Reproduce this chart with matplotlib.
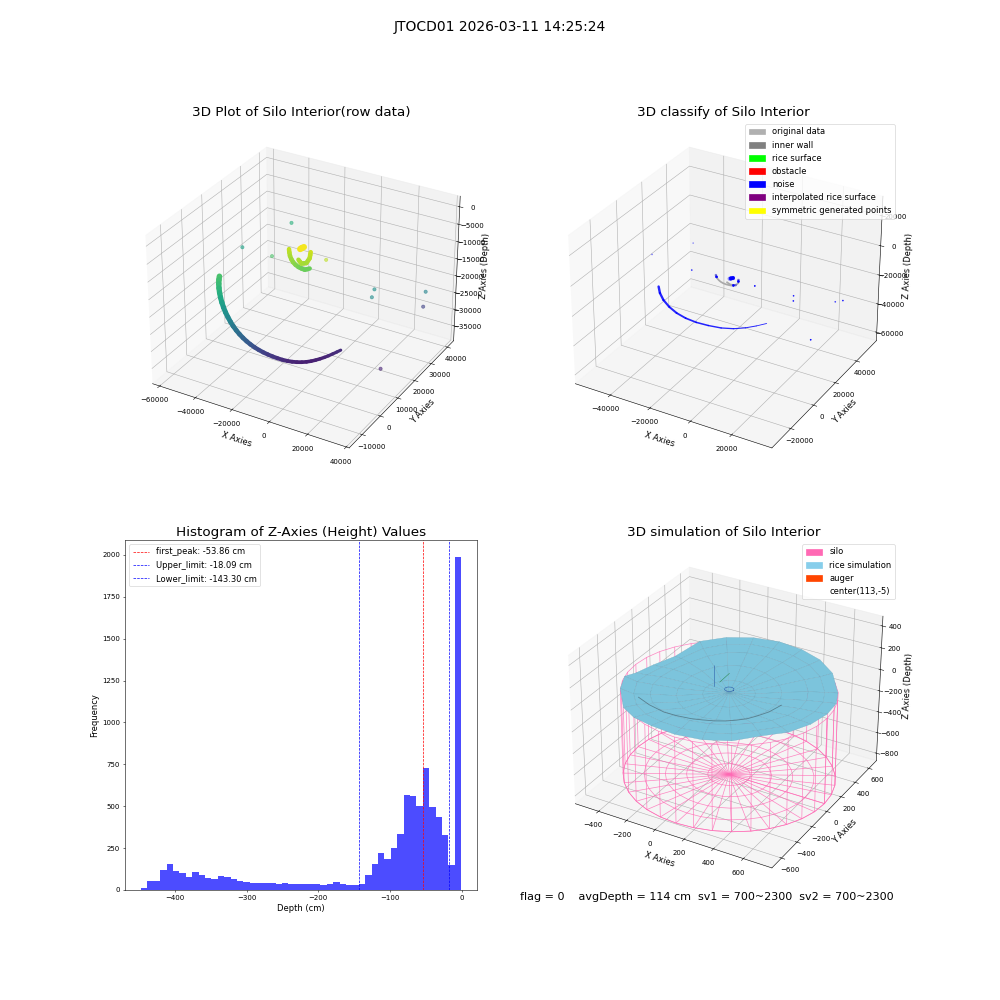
#!/usr/bin/env python3
import matplotlib
matplotlib.use("Agg")
import matplotlib.patches as mpatches
import matplotlib.pyplot as plt
import numpy as np
from mpl_toolkits.mplot3d.art3d import Line3DCollection

# Outer wall arc (mm)
ARC_X = [-39300, -38620, -37890, -37110, -36280, -35400, -34470, -33495, -32470, -31400, -30280, -29110, -27840,
         -26525, -25160, -23745, -22285, -20775, -19215, -17605, -15950, -14245, -12490, -10735, -8980, -7225,
         -5520, -3860, -2250, -690, 820, 2280, 3695, 5060, 6375, 7645, 8865]
ARC_Y = [-4270, -5170, -5940, -6580, -7090, -7470, -7720, -7840, -7840, -7710, -7515, -7260, -6945,
         -6570, -6130, -5630, -5070, -4450, -3765, -3030, -2250, -1435, -595, 275, 1160, 2065,
         2985, 3915, 4845, 5775, 6705, 7635, 8565, 9495, 10425, 11355, 12285]
ARC_Z = [-10360, -10860, -11510, -12310, -13260, -14310, -15460, -16660, -17910, -19160, -20410, -21610, -22760,
         -23860, -24910, -25910, -26860, -27760, -28610, -29410, -30160, -30860, -31510, -32110, -32610, -33010,
         -33310, -33510, -33610, -33610, -33510, -33360, -33160, -32910, -32610, -32310, -32010]

# Same arc
CLASS_ARC_X = [-34800, -32710, -30270, -27400, -24240, -20545, -16415, -11845, -6980, -2360, 1820, 5560, 9065]
CLASS_ARC_Y = [-4270, -6580, -7720, -7710, -6945, -5630, -3765, -1435, 1160, 3915, 6705, 9495, 12285]
CLASS_ARC_Z = [-12860, -14810, -17760, -21260, -24660, -27610, -30110, -32060, -33610, -34210, -33910, -33110, -32010]

# Inner arcs, near the sensor
INNER1_X = [-12000, -11500, -10900, -10100, -9200, -8300, -7300, -6400, -5400, -4700, -4000]
INNER1_Y = [5380, 5060, 4780, 4690, 4710, 5120, 5640, 6340, 7030, 7610, 8250]
INNER1_Z = [-2960, -3700, -4440, -5200, -5900, -6700, -7400, -8000, -8500, -8500, -8500]
INNER2_X = [-1400, -1100, -800, -1200, -1700, -2900, -4100, -4900, -5700]
INNER2_Y = [6180, 5600, 5020, 4590, 4160, 4060, 3980, 4000, 4050]
INNER2_Z = [-2600, -3100, -3700, -4200, -4800, -5000, -5200, -4800, -4400]
BLOB_X = [-4100, -3600, -2900]
BLOB_Y = [3370, 3620, 4110]
BLOB_Z = [-900, -700, -500]

# Isolated returns
NOISE_X = [-42300, -54400, -28200, 6400, 15800, 17500, 35000, 27500, 31000]
NOISE_Y = [36470, 21300, 12170, 6440, 23630, 20340, 32550, 40290, 11320]
NOISE_Z = [-13300, -15700, -10360, -3700, -18500, -19000, -20350, -29600, -33300]

# Histogram
HIST_START = -447
HIST_WIDTH = 8.92
HIST_COUNTS = [12, 54, 54, 120, 155, 114, 102, 78, 108, 90, 72, 66, 84, 78, 66, 54, 48, 42, 42, 42, 42, 36, 42, 36,
               36, 36, 36, 36, 30, 36, 48, 36, 30, 30, 36, 90, 155, 220, 185, 250, 335, 568, 562, 502, 730, 496,
               436, 329, 150, 1990]
FIRST_PEAK = -53.86
UPPER_LIMIT = -18.09
LOWER_LIMIT = -143.30

# Silo and rice surface (cm)
CENTER_X = 113
CENTER_Y = -5
SILO_RADIUS = 660
SILO_BOTTOM = -800
SILO_TOP = -10
SILO_RINGS = [0, 132, 264, 396, 528, 660]
RICE_RINGS = [0, 160, 320, 480, 580, 660]
RICE_ANGLES = [0, 15, 30, 45, 60, 75, 90, 105, 120, 135, 150, 165, 180, 195, 210, 225, 240, 255, 270, 285, 300, 315,
               330, 345, 360]
RICE_R0 = [-30] * 25
RICE_R160 = [-35, -35, -35, -35, -30, -30, -30, -30, -30, -35, -35, -40, -40, -45, -45, -50, -50, -50, -50, -45, -45,
             -40, -40, -35, -35]
RICE_R320 = [-20, -20, -20, -15, -10, -5, 0, 0, -5, -15, -30, -40, -50, -55, -60, -60, -60, -60, -55, -50, -45,
             -35, -30, -25, -20]
RICE_R480 = [10, 0, -10, 10, 15, 15, 15, 15, 5, -20, -50, -60, -60, -50, -50, -40, -15, 10, 20, 30, 35, 40,
             30, 20, 10]
RICE_R580 = [20, 5, -15, 20, 30, 30, 30, 30, 15, -15, -70, -90, -80, -45, -50, -40, -20, 5, 15, 25, 30, 50,
             40, 30, 20]
RICE_R660 = [30, 10, -20, 40, 50, 50, 50, 40, 25, 0, -100, -110, -90, -10, 0, -50, -20, 10, 15, 20, 30, 60,
             45, 40, 30]
FOLD_X = [-328, -225, -103, -15, 73, 140, 208, 262, 310, 358, 392, 430, 455]
FOLD_Y = [-338, -385, -417, -415, -402, -380, -352, -320, -280, -230, -171, -90, 23]
FOLD_Z = [-30] * 13

# Auger wire, seen through the surface
AUGER_BLUE_X = [-3, -3]
AUGER_BLUE_Y = [21, 21]
AUGER_BLUE_Z = [-30, 160]
AUGER_GREEN_X = [-2, -6]
AUGER_GREEN_Y = [87, 217]
AUGER_GREEN_Z = [-30, -30]
AUGER_RING_X = [122, 113, 92, 71, 62, 71, 92, 113, 122]
AUGER_RING_Y = [37, 58, 67, 58, 37, 16, 7, 16, 37]
AUGER_RING_Z = [-30, -30, -30, -30, -30, -30, -30, -30, -30]

Z_NORM = plt.Normalize(-37000, 0)


def segments(xs, ys, zs):
    pts = np.column_stack([xs, ys, zs])
    return np.stack([pts[:-1], pts[1:]], axis=1)


def add_depth_line(ax, xs, ys, zs, widths):
    # thick line along the points, coloured by depth like the scatter
    segs = segments(xs, ys, zs)
    col = Line3DCollection(segs, cmap="viridis", norm=Z_NORM, linewidths=widths, capstyle="round")
    col.set_array(segs[:, :, 2].mean(axis=1))
    ax.add_collection3d(col)


def plot_raw(ax):
    add_depth_line(ax, ARC_X, ARC_Y, ARC_Z, np.linspace(8, 4.5, len(ARC_X) - 1))
    add_depth_line(ax, INNER1_X, INNER1_Y, INNER1_Z, 6.5)
    add_depth_line(ax, INNER2_X, INNER2_Y, INNER2_Z, 6.5)
    add_depth_line(ax, BLOB_X, BLOB_Y, BLOB_Z, 9)
    ax.scatter(NOISE_X, NOISE_Y, NOISE_Z, c=NOISE_Z, cmap="viridis", norm=Z_NORM, alpha=0.6, s=22)
    ax.set_xlim(-64000, 41500)
    ax.set_ylim(-17000, 44000)
    ax.set_zlim(-39500, 3000)
    ax.set_title("3D Plot of Silo Interior(row data)", fontsize=19.4)
    ax.set_xlabel("X Axies", fontsize=12)
    ax.set_ylabel("Y Axies", fontsize=12)
    ax.set_zlabel("Z Axies (Depth)", fontsize=12)


def plot_classify(ax):
    col = Line3DCollection(segments(CLASS_ARC_X, CLASS_ARC_Y, CLASS_ARC_Z), colors="blue", alpha=0.85,
                           linewidths=np.linspace(3.5, 1.2, len(CLASS_ARC_X) - 1), capstyle="round")
    ax.add_collection3d(col)
    ax.plot(INNER1_X, INNER1_Y, INNER1_Z, color="darkgray", linewidth=2.5)
    ax.plot(INNER2_X, INNER2_Y, INNER2_Z, color="darkgray", linewidth=2.5)
    ax.scatter(INNER1_X[:2], INNER1_Y[:2], INNER1_Z[:2], color="blue", s=8)
    ax.scatter(INNER2_X[:2], INNER2_Y[:2], INNER2_Z[:2], color="blue", s=8)
    ax.scatter(INNER1_X[-2:], INNER1_Y[-2:], INNER1_Z[-2:], color="blue", s=8)
    ax.scatter(BLOB_X, BLOB_Y, BLOB_Z, color="blue", s=25)
    ax.scatter(BLOB_X[1:2], BLOB_Y[1:2], BLOB_Z[1:2], color="red", s=4)
    ax.scatter(NOISE_X, NOISE_Y, NOISE_Z, color="blue", s=2)
    ax.set_xlim(-58000, 39000)
    ax.set_ylim(-36000, 59500)
    ax.set_zlim(-66000, 33000)
    ax.set_title("3D classify of Silo Interior", fontsize=19.4)
    ax.set_xlabel("X Axies", fontsize=12)
    ax.set_ylabel("Y Axies", fontsize=12)
    ax.set_zlabel("Z Axies (Depth)", fontsize=12)
    handles = [
        mpatches.Patch(color="#b0b0b0", label="original data"),
        mpatches.Patch(color="gray", label="inner wall"),
        mpatches.Patch(color="lime", label="rice surface"),
        mpatches.Patch(color="red", label="obstacle"),
        mpatches.Patch(color="blue", label="noise"),
        mpatches.Patch(color="purple", label="interpolated rice surface"),
        mpatches.Patch(color="yellow", label="symmetric generated points"),
    ]
    ax.legend(handles=handles, loc="upper right", fontsize=12)


def plot_hist(ax):
    edges = HIST_START + HIST_WIDTH * np.arange(len(HIST_COUNTS))
    ax.bar(edges, HIST_COUNTS, width=HIST_WIDTH, align="edge", color="blue", alpha=0.7)
    ax.axvline(FIRST_PEAK, color="red", linestyle="--", linewidth=1, label=f"first_peak: {FIRST_PEAK:.2f} cm")
    ax.axvline(UPPER_LIMIT, color="blue", linestyle="--", linewidth=1, label=f"Upper_limit: {UPPER_LIMIT:.2f} cm")
    ax.axvline(LOWER_LIMIT, color="blue", linestyle="--", linewidth=1, label=f"Lower_limit: {LOWER_LIMIT:.2f} cm")
    ax.set_title("Histogram of Z-Axies (Height) Values", fontsize=19.4)
    ax.set_xlabel("Depth (cm)", fontsize=12)
    ax.set_ylabel("Frequency", fontsize=12)
    ax.legend(loc="upper left", fontsize=12)


def plot_simulation(ax):
    ax.computed_zorder = False

    theta = np.radians(np.arange(0, 361, 10))
    wall_t, wall_z = np.meshgrid(theta, [SILO_BOTTOM, SILO_TOP])
    ax.plot_wireframe(CENTER_X + SILO_RADIUS * np.cos(wall_t), CENTER_Y + SILO_RADIUS * np.sin(wall_t), wall_z,
                      color="hotpink", linewidth=1, alpha=0.8, zorder=1)
    disc_t, disc_r = np.meshgrid(theta, SILO_RINGS)
    ax.plot_wireframe(CENTER_X + disc_r * np.cos(disc_t), CENTER_Y + disc_r * np.sin(disc_t),
                      np.full(disc_t.shape, SILO_BOTTOM), color="hotpink", linewidth=1, alpha=0.8, zorder=1)

    rice_z = np.array([RICE_R0, RICE_R160, RICE_R320, RICE_R480, RICE_R580, RICE_R660])
    rice_t, rice_r = np.meshgrid(np.radians(RICE_ANGLES), RICE_RINGS)
    ax.plot_surface(CENTER_X + rice_r * np.cos(rice_t), CENTER_Y + rice_r * np.sin(rice_t), rice_z,
                    color="#7cc4dc", shade=False, edgecolor="#6aa6bd", linewidth=0.4, zorder=2)

    ax.plot(FOLD_X, FOLD_Y, FOLD_Z, color="#3f5560", linewidth=1.2, alpha=0.6, zorder=3)
    ax.plot(AUGER_BLUE_X, AUGER_BLUE_Y, AUGER_BLUE_Z, color="#2a5caa", linewidth=0.8, zorder=3)
    ax.plot(AUGER_GREEN_X, AUGER_GREEN_Y, AUGER_GREEN_Z, color="#2e8b57", linewidth=0.8, zorder=3)
    ax.plot(AUGER_RING_X, AUGER_RING_Y, AUGER_RING_Z, color="#2a5caa", linewidth=0.8, zorder=3)

    ax.set_xlim(-568, 788)
    ax.set_ylim(-721, 711)
    ax.set_zlim(-873, 489)
    ax.set_title("3D simulation of Silo Interior", fontsize=19.4)
    ax.set_xlabel("X Axies", fontsize=12)
    ax.set_ylabel("Y Axies", fontsize=12)
    ax.set_zlabel("Z Axies (Depth)", fontsize=12)
    handles = [
        mpatches.Patch(color="hotpink", label="silo"),
        mpatches.Patch(color="skyblue", label="rice simulation"),
        mpatches.Patch(color="orangered", label="auger"),
        mpatches.Patch(color="white", label=f"center({CENTER_X},{CENTER_Y})"),
    ]
    ax.legend(handles=handles, loc="upper right", fontsize=12)


def main():
    fig = plt.figure(figsize=(20, 20), dpi=50)
    fig.suptitle("JTOCD01 2026-03-11 14:25:24", fontsize=20)

    plot_raw(fig.add_subplot(2, 2, 1, projection="3d"))
    plot_classify(fig.add_subplot(2, 2, 2, projection="3d"))
    plot_hist(fig.add_subplot(2, 2, 3))
    plot_simulation(fig.add_subplot(2, 2, 4, projection="3d"))

    fig.text(0.52, 0.103, "flag = 0    avgDepth = 114 cm  sv1 = 700~2300  sv2 = 700~2300", fontsize=16, va="center")

    fig.savefig("out.png", dpi=50)


if __name__ == "__main__":
    main()
